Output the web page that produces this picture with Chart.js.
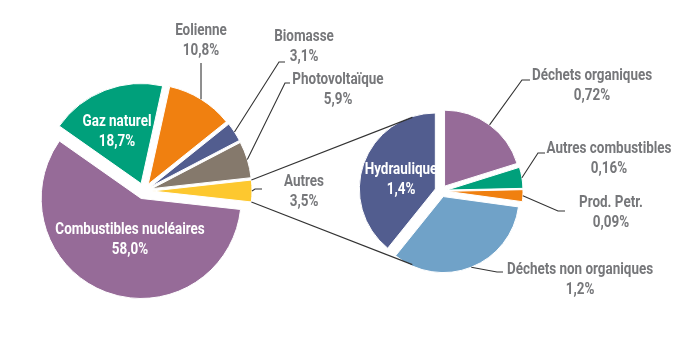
<!DOCTYPE html>
<html lang="fr">
  <head>
    <meta charset="UTF-8" />
    <title>Production d'électricité par source</title>
    <script src="https://cdn.jsdelivr.net/npm/chart.js"></script>
    <style>
      body { margin: 0; background: #fff; }
      #wrap { position: relative; width: 700px; height: 341px; }
      #wrap canvas { position: absolute; left: 0; top: 0; }
    </style>
  </head>
  <body>
    <div id="wrap">
      <canvas id="mainPie" width="700" height="341"></canvas>
      <canvas id="detailPie" width="700" height="341"></canvas>
    </div>

    <script>
      // Production totale (%)
      const mainLabels = ["Autres", "Combustibles nucléaires", "Gaz naturel", "Eolienne", "Biomasse", "Photovoltaïque"];
      const mainValues = [3.5, 58.0, 18.7, 10.8, 3.1, 5.9];
      const mainColors = ["#fdc82f", "#966b98", "#00a07b", "#f08010", "#525d8f", "#85796c"];

      // Détail de la part "Autres" (%)
      const detailLabels = ["Déchets organiques", "Autres combustibles", "Prod. Petr.", "Déchets non organiques", "Hydraulique"];
      const detailValues = [0.72, 0.16, 0.09, 1.2, 1.4];
      const detailColors = ["#966b98", "#00a07b", "#f08010", "#70a2c8", "#525d8f"];

      const FONT = 'bold 16px Roboto, "DejaVu Sans", sans-serif';
      const SQUEEZE = 0.84; // condensed look
      const TEXT_GREY = "#76777a";
      const LINE_GREY = "#333333";
      const LINE_GAP = 20;

      // label position, leader elbow and end of the short horizontal tick
      const mainLabelLayout = [
        { x: 304, y: 182, elbow: [255, 189], end: 262 },
        { x: 130, y: 230, inside: true },
        { x: 117, y: 122, inside: true },
        { x: 201, y: 31, elbow: [null, 63] },
        { x: 304, y: 37, elbow: [279, 62], end: 285 },
        { x: 338, y: 80, elbow: [285, 83], end: 290 },
      ];
      const detailLabelLayout = [
        { x: 592, y: 76, elbow: [522, 80], end: 530 },
        { x: 609, y: 149, elbow: [538, 153], end: 545 },
        { x: 611, y: 203, elbow: [558, 211], end: 565 },
        { x: 580, y: 270, elbow: [497, 272], end: 503 },
        { x: 401, y: 170, inside: true },
      ];

      const fmtMain = (v) => v.toFixed(1).replace(".", ",") + "%";
      const fmtDetail = (v) => String(v).replace(".", ",") + "%";

      function squeezedText(ctx, text, x, y) {
        ctx.save();
        ctx.translate(x, y);
        ctx.scale(SQUEEZE, 1);
        ctx.fillText(text, 0, 0);
        ctx.restore();
      }

      // pushes every slice out along its mid angle
      const explode = {
        id: "explode",
        afterUpdate(chart, args, opts) {
          const arcs = chart.getDatasetMeta(0).data;
          if (!arcs.length) return;
          chart.$center = { x: arcs[0].x, y: arcs[0].y, r: arcs[0].outerRadius, d: opts.distance };
          arcs.forEach((arc) => {
            const mid = (arc.startAngle + arc.endAngle) / 2;
            arc.x += Math.cos(mid) * opts.distance;
            arc.y += Math.sin(mid) * opts.distance;
          });
        },
      };

      function labelPlugin(layout, fmt) {
        return {
          id: "pieLabels",
          afterDraw(chart) {
            const { ctx } = chart;
            const arcs = chart.getDatasetMeta(0).data;
            const values = chart.data.datasets[0].data;
            ctx.save();
            ctx.font = FONT;
            ctx.textAlign = "center";
            ctx.textBaseline = "middle";
            ctx.strokeStyle = LINE_GREY;
            ctx.lineWidth = 1.1;
            layout.forEach((item, i) => {
              const arc = arcs[i];
              if (!item.inside) {
                const mid = (arc.startAngle + arc.endAngle) / 2;
                const ax = arc.x + Math.cos(mid) * arc.outerRadius;
                const ay = arc.y + Math.sin(mid) * arc.outerRadius;
                const ex = item.elbow[0] === null ? ax : item.elbow[0];
                ctx.beginPath();
                ctx.moveTo(ax, ay);
                ctx.lineTo(ex, item.elbow[1]);
                if (item.end) ctx.lineTo(item.end, item.elbow[1]);
                ctx.stroke();
              }
              ctx.fillStyle = item.inside ? "#fff" : TEXT_GREY;
              squeezedText(ctx, chart.data.labels[i], item.x, item.y);
              squeezedText(ctx, fmt(values[i]), item.x, item.y + LINE_GAP);
            });
            ctx.restore();
          },
        };
      }

      // tangent lines from the "Autres" slice to the detail pie
      const connectors = {
        id: "connectors",
        afterDraw(chart) {
          const autres = mainChart.getDatasetMeta(0).data[0];
          const c = chart.$center;
          const R = c.r + c.d / 2;
          const { ctx } = chart;
          ctx.save();
          ctx.strokeStyle = LINE_GREY;
          ctx.lineWidth = 1.1;
          [
            [autres.startAngle, 1],
            [autres.endAngle, -1],
          ].forEach(([a, side]) => {
            const px = autres.x + Math.cos(a) * autres.outerRadius;
            const py = autres.y + Math.sin(a) * autres.outerRadius;
            const dist = Math.hypot(px - c.x, py - c.y);
            const t = Math.atan2(py - c.y, px - c.x) + side * Math.acos(R / dist);
            ctx.beginPath();
            ctx.moveTo(px, py);
            ctx.lineTo(c.x + Math.cos(t) * R, c.y + Math.sin(t) * R);
            ctx.stroke();
          });
          ctx.restore();
        },
      };

      const baseOptions = {
        responsive: false,
        animation: false,
        devicePixelRatio: 1,
        events: [],
        plugins: { legend: { display: false }, tooltip: { enabled: false } },
      };

      const mainTotal = mainValues.reduce((a, b) => a + b, 0);
      const mainChart = new Chart(document.getElementById("mainPie"), {
        type: "pie",
        data: {
          labels: mainLabels,
          datasets: [
            {
              data: mainValues,
              backgroundColor: mainColors,
              borderColor: "#fff",
              borderWidth: 1,
              radius: 100,
              // "Autres" centred on the right-hand horizontal
              rotation: 90 - (mainValues[0] / mainTotal) * 180,
            },
          ],
        },
        options: {
          ...baseOptions,
          layout: { padding: { left: 0, right: 412, top: 41, bottom: 0 } },
          plugins: { ...baseOptions.plugins, explode: { distance: 8 } },
        },
        plugins: [explode, labelPlugin(mainLabelLayout, fmtMain)],
      });

      new Chart(document.getElementById("detailPie"), {
        type: "pie",
        data: {
          labels: detailLabels,
          datasets: [
            {
              data: detailValues,
              backgroundColor: detailColors,
              borderColor: "#fff",
              borderWidth: 1,
              radius: 76,
              rotation: 0,
            },
          ],
        },
        options: {
          ...baseOptions,
          layout: { padding: { left: 182, right: 0, top: 41, bottom: 0 } },
          plugins: { ...baseOptions.plugins, explode: { distance: 6 } },
        },
        plugins: [explode, connectors, labelPlugin(detailLabelLayout, fmtDetail)],
      });
    </script>
  </body>
</html>
